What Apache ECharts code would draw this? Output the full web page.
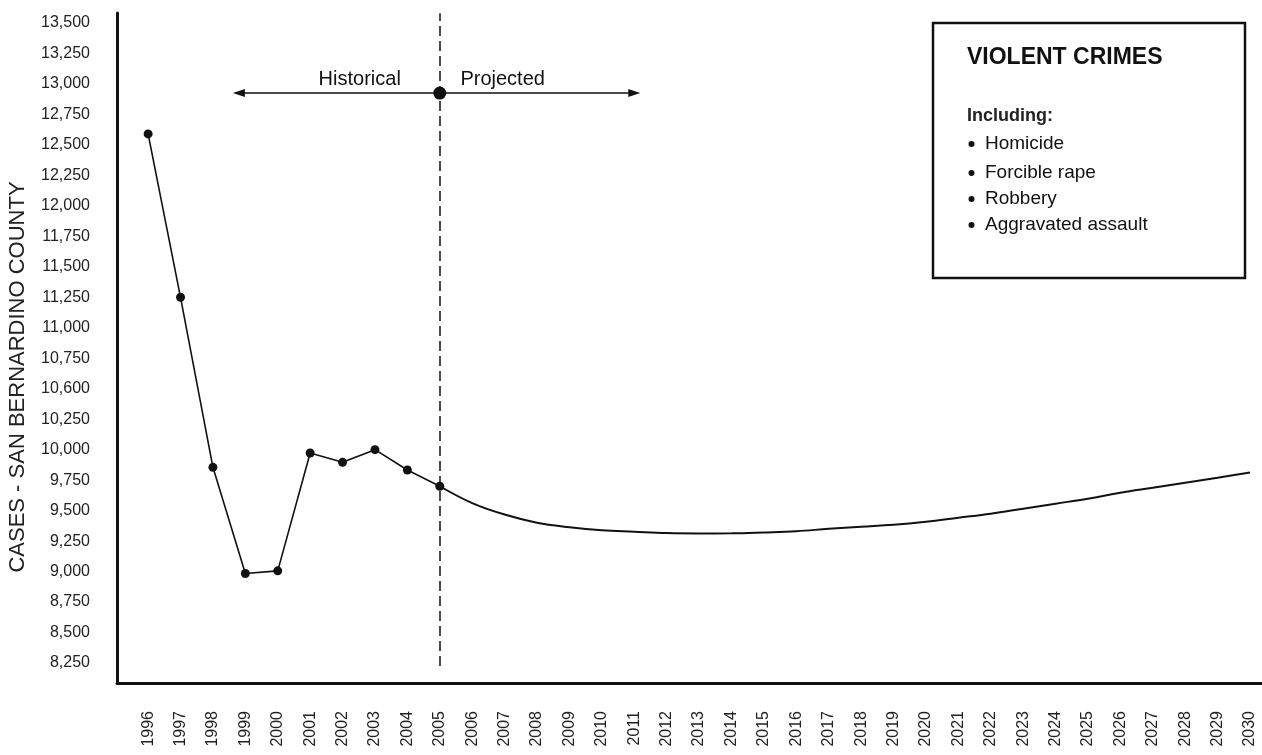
<!DOCTYPE html>
<html>
<head>
<meta charset="utf-8">
<title>Violent Crimes - San Bernardino County</title>
<script src="https://cdn.jsdelivr.net/npm/echarts@6/dist/echarts.min.js"></script>
<style>
  html, body { margin: 0; padding: 0; background: #fff; }
  #chart { width: 1262px; height: 755px; }
</style>
</head>
<body>
<div id="chart"></div>
<script>
// years shown on the x axis
const years = [1996, 1997, 1998, 1999, 2000, 2001, 2002, 2003, 2004, 2005,
  2006, 2007, 2008, 2009, 2010, 2011, 2012, 2013, 2014, 2015, 2016, 2017,
  2018, 2019, 2020, 2021, 2022, 2023, 2024, 2025, 2026, 2027, 2028, 2029, 2030]

// historical cases (dots)
const historicalYears = [1996, 1997, 1998, 1999, 2000, 2001, 2002, 2003, 2004, 2005]
const historicalCases = [12590, 11250, 9855, 8984, 9006, 9973, 9896, 10000, 9833, 9700]

// projected trend (smooth line)
const projectedYears = [2005, 2006, 2007, 2008, 2009, 2010, 2011, 2012, 2013,
  2014, 2015, 2016, 2017, 2018, 2019, 2020, 2021, 2022, 2023, 2024, 2025,
  2026, 2027, 2028, 2029, 2030]
const projectedCases = [9700, 9562, 9468, 9401, 9364, 9339, 9327, 9316, 9313,
  9314, 9321, 9331, 9351, 9368, 9384, 9409, 9442, 9475, 9516, 9557, 9598,
  9647, 9688, 9729, 9770, 9812]

// y tick values and the labels as printed (the chart prints 10,600 at 10,500)
const yTickValues = [8250, 8500, 8750, 9000, 9250, 9500, 9750, 10000, 10250,
  10500, 10750, 11000, 11250, 11500, 11750, 12000, 12250, 12500, 12750, 13000,
  13250, 13500]
const yTickLabels = ['8,250', '8,500', '8,750', '9,000', '9,250', '9,500',
  '9,750', '10,000', '10,250', '10,600', '10,750', '11,000', '11,250', '11,500',
  '11,750', '12,000', '12,250', '12,500', '12,750', '13,000', '13,250', '13,500']

const legendTitle = 'VIOLENT CRIMES'
const legendSubtitle = 'Including:'
const legendItems = ['Homicide', 'Forcible rape', 'Robbery', 'Aggravated assault']

const FONT = '"Liberation Sans", Arial, Helvetica, sans-serif'
const INK = '#111'

const chart = echarts.init(document.getElementById('chart'))

const legendGraphics = [{
    type: 'rect',
    shape: { x: 933, y: 23, width: 312, height: 255 },
    style: { fill: '#fff', stroke: INK, lineWidth: 2.5 }
  }, {
    type: 'text',
    x: 967, y: 58,
    style: { text: legendTitle, font: 'bold 23px ' + FONT, fill: INK, verticalAlign: 'middle' }
  }, {
    type: 'text',
    x: 967, y: 116,
    style: { text: legendSubtitle, font: 'bold 18px ' + FONT, fill: '#222', verticalAlign: 'middle' }
  }
]
const itemRows = [144, 173, 199, 225]
legendItems.forEach((name, i) => {
  legendGraphics.push({
    type: 'circle',
    shape: { cx: 971.5, cy: itemRows[i], r: 3 },
    style: { fill: INK }
  })
  legendGraphics.push({
    type: 'text',
    x: 985, y: itemRows[i],
    style: { text: name, font: '19px ' + FONT, fill: INK, verticalAlign: 'middle' }
  })
})

chart.setOption({
  animation: false,
  backgroundColor: '#fff',
  textStyle: { fontFamily: FONT },
  grid: { left: 117, right: 0, top: 13, bottom: 72 },
  xAxis: {
    type: 'value',
    min: 1995.04,
    max: 2030.37,
    axisLine: { show: true, lineStyle: { color: INK, width: 3 } },
    axisTick: { show: false },
    splitLine: { show: false },
    axisLabel: {
      customValues: years,
      rotate: 90,
      margin: 28,
      fontSize: 16,
      color: '#222',
      formatter: v => String(v)
    }
  },
  yAxis: {
    type: 'value',
    min: 8086,
    max: 13582,
    axisLine: { show: true, lineStyle: { color: INK, width: 3 } },
    axisTick: { show: false },
    splitLine: { show: false },
    axisLabel: {
      customValues: yTickValues,
      margin: 27,
      fontSize: 16,
      color: '#222',
      formatter: v => yTickLabels[yTickValues.indexOf(v)]
    }
  },
  graphic: [{
      type: 'text',
      x: 18, y: 377,
      rotation: Math.PI / 2,
      style: {
        text: 'CASES - SAN BERNARDINO COUNTY',
        font: '22px ' + FONT,
        fill: '#222',
        align: 'center',
        verticalAlign: 'middle'
      }
    }, {
      type: 'group',
      children: legendGraphics
    }
  ],
  series: [{
      name: 'Historical',
      type: 'line',
      data: historicalYears.map((y, i) => [y, historicalCases[i]]),
      symbol: 'circle',
      symbolSize: 9,
      itemStyle: { color: INK },
      lineStyle: { color: INK, width: 1.6 },
      z: 3
    }, {
      name: 'Projected',
      type: 'line',
      data: projectedYears.map((y, i) => [y, projectedCases[i]]),
      smooth: 0.4,
      showSymbol: false,
      lineStyle: { color: INK, width: 2 }
    }, {
      // divider between history and projection
      name: 'divider',
      type: 'scatter',
      data: [[2005, 12925]],
      symbolSize: 0,
      clip: false,
      silent: true,
      markLine: {
        silent: true,
        symbol: ['none', 'none'],
        label: { show: false },
        lineStyle: { color: INK, width: 1.5, type: [10, 5] },
        data: [[{ coord: [2005, 8226] }, { coord: [2005, 13580] }]]
      }
    }, {
      // Historical <-> Projected arrow
      name: 'arrow',
      type: 'scatter',
      data: [[2005, 12925]],
      clip: false,
      silent: true,
      symbol: 'circle',
      symbolSize: 13,
      itemStyle: { color: INK, opacity: 1 },
      z: 4,
      markLine: {
        silent: true,
        symbol: ['triangle', 'triangle'],
        symbolSize: [8, 12],
        label: { show: false },
        lineStyle: { color: INK, width: 1.5, type: 'solid' },
        data: [[{ coord: [1998.8, 12925] }, { coord: [2011, 12925] }]]
      },
      markPoint: {
        silent: true,
        symbolSize: 0,
        label: {
          show: true,
          position: 'inside',
          fontSize: 20,
          color: INK,
          formatter: p => p.name
        },
        data: [
          { name: 'Historical', coord: [2002.53, 13035] },
          { name: 'Projected', coord: [2006.94, 13035] }
        ]
      }
    }
  ]
})
</script>
</body>
</html>
